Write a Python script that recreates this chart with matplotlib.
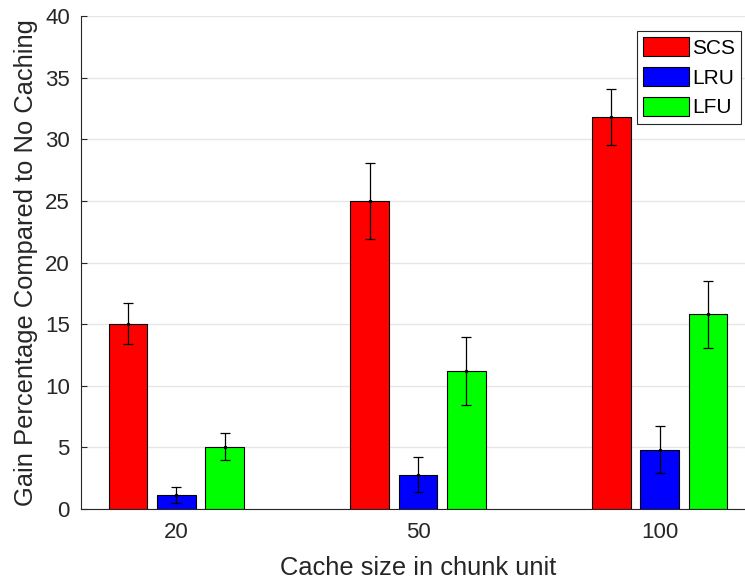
import numpy as np
import matplotlib
matplotlib.use("Agg")
import matplotlib.pyplot as plt

plt.rcParams["font.family"] = ["Liberation Sans", "DejaVu Sans"]

# cache sizes (chunk units) and mean gain per policy
cache_sizes = ["20", "50", "100"]
policies = ["SCS", "LRU", "LFU"]
scs_gain = [15.05, 25.0, 31.8]
lru_gain = [1.1, 2.8, 4.8]
lfu_gain = [5.05, 11.2, 15.8]
# half-width of the error bars
scs_err = [1.7, 3.1, 2.3]
lru_err = [0.65, 1.45, 1.9]
lfu_err = [1.1, 2.75, 2.7]

gains = [scs_gain, lru_gain, lfu_gain]
errs = [scs_err, lru_err, lfu_err]
colors = ["#ff0000", "#0000ff", "#00ff00"]

fig = plt.figure(figsize=(7.45, 5.84), dpi=100)
ax = fig.add_axes([0.1087, 0.1284, 0.9047, 0.8442])

x = np.arange(1, len(cache_sizes) + 1)
offsets = [-0.2, 0.0, 0.2]
width = 0.16
dark = (0.15, 0.15, 0.15)

for g, e, c, off, name in zip(gains, errs, colors, offsets, policies):
    ax.bar(x + off, g, width, color=c, edgecolor="black", linewidth=0.8,
           label=name, zorder=2)
    ax.errorbar(x + off, g, yerr=e, fmt=".", color="black", markersize=3,
                elinewidth=0.9, capsize=3.5, capthick=0.9, zorder=3)

ax.set_xlim(0.606, 3.394)
ax.set_ylim(0, 40)
ax.set_yticks(np.arange(0, 41, 5))
ax.set_xticks(x)
ax.set_xticklabels(cache_sizes)

ax.yaxis.grid(True, color=(0.9, 0.9, 0.9), linewidth=1.0, zorder=0)
ax.set_axisbelow(True)

for side in ["top", "right"]:
    ax.spines[side].set_visible(False)
for side in ["left", "bottom"]:
    ax.spines[side].set_color(dark)
    ax.spines[side].set_linewidth(0.8)

ax.tick_params(axis="x", length=0, pad=9, labelsize=16, colors=dark)
ax.tick_params(axis="y", direction="in", length=4, width=0.8, pad=8,
               labelsize=16, colors=dark)

ax.set_xlabel("Cache size in chunk unit", fontsize=18.4, color=dark,
              labelpad=10)
ax.set_ylabel("Gain Percentage Compared to No Caching", fontsize=18.4,
              color=dark, labelpad=5)

leg = ax.legend(loc="upper right", bbox_to_anchor=(741 / 745, 1 - 31 / 584),
                bbox_transform=fig.transFigure, borderaxespad=0,
                fontsize=15, fancybox=False, framealpha=1,
                edgecolor=(0.15, 0.15, 0.15), handlelength=2.2,
                handleheight=1.0, handletextpad=0.15, labelspacing=0.45,
                borderpad=0.3)
leg.get_frame().set_linewidth(0.8)

fig.savefig("out.png", dpi=100)
